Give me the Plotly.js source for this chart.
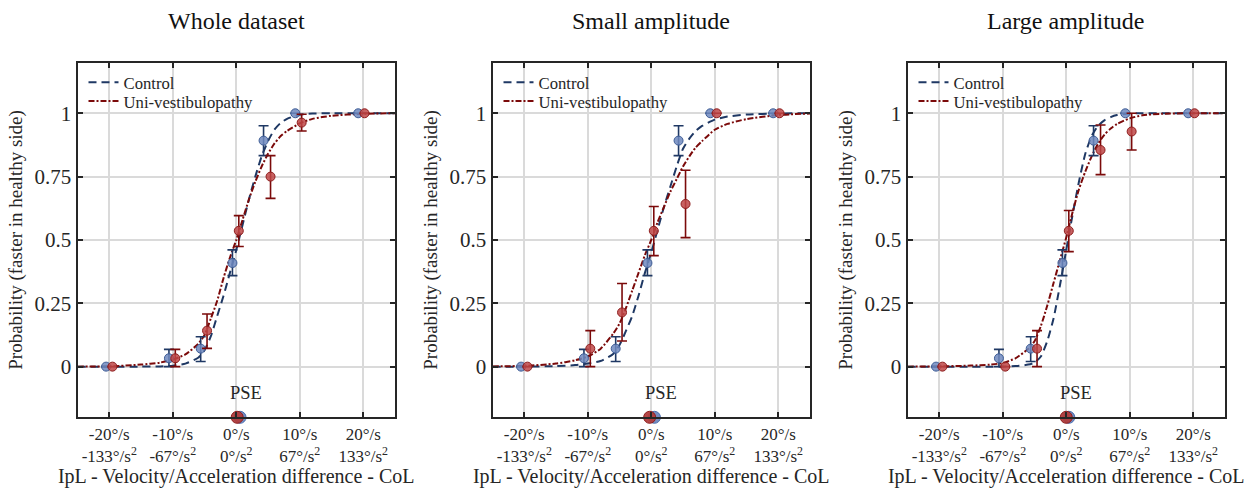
<!DOCTYPE html>
<html>
<head>
<meta charset="utf-8">
<script src="https://cdn.plot.ly/plotly-3.0.1.min.js"></script>
<style>html,body{margin:0;padding:0;background:#fff;}#chart{width:1251px;height:488px;}</style>
</head>
<body>
<div id="chart"></div>
<script>
// ---------- data ----------
const panelTitles = ["Whole dataset", "Small amplitude", "Large amplitude"];
const tickValues = [-20, -10, 0, 10, 20];
const tickLabels = ["-20°/s<br>-133°/s<sup>2</sup>", "-10°/s<br>-67°/s<sup>2</sup>", "0°/s<br>0°/s<sup>2</sup>", "10°/s<br>67°/s<sup>2</sup>", "20°/s<br>133°/s<sup>2</sup>"];
const yTickValues = [0, 0.25, 0.5, 0.75, 1];
const yTickLabels = ["0", "0.25", "0.5", "0.75", "1"];
const seriesNames = ["Control", "Uni-vestibulopathy"];

// observed points (x positions slightly jittered per group, as in the figure)
const controlX = [-20.5, -10.6, -5.6, -0.6, 4.3, 9.3, 19.2];
const uvpX     = [-19.5, -9.6, -4.6, 0.4, 5.4, 10.3, 20.2];

const controlP1 = [0, 0.033, 0.071, 0.409, 0.892, 1, 1];
const controlP1Hi = [0, 0.068, 0.118, 0.461, 0.951, 1, 1];
const controlP1Lo = [0, 0, 0.02, 0.359, 0.833, 1, 1];
const uvpP1 = [0, 0.033, 0.142, 0.536, 0.75, 0.963, 1];
const uvpP1Hi = [0, 0.068, 0.208, 0.596, 0.833, 0.996, 1];
const uvpP1Lo = [0, 0, 0.072, 0.474, 0.664, 0.93, 1];

const controlP2 = [0, 0.033, 0.071, 0.409, 0.892, 1, 1];
const controlP2Hi = [0, 0.068, 0.118, 0.461, 0.951, 1, 1];
const controlP2Lo = [0, 0, 0.02, 0.359, 0.833, 1, 1];
const uvpP2 = [0, 0.071, 0.214, 0.536, 0.642, 1, 1];
const uvpP2Hi = [0, 0.142, 0.328, 0.632, 0.775, 1, 1];
const uvpP2Lo = [0, 0, 0.101, 0.438, 0.509, 1, 1];

const controlP3 = [0, 0.033, 0.071, 0.409, 0.892, 1, 1];
const controlP3Hi = [0, 0.068, 0.118, 0.461, 0.951, 1, 1];
const controlP3Lo = [0, 0, 0.02, 0.359, 0.833, 1, 1];
const uvpP3 = [0, 0, 0.071, 0.536, 0.855, 0.928, 1];
const uvpP3Hi = [0, 0, 0.142, 0.616, 0.954, 1, 1];
const uvpP3Lo = [0, 0, 0, 0.454, 0.758, 0.855, 1];

// fitted psychometric curves, sampled from the figure
const curveX = [-25, -20, -15, -12, -10, -8, -6, -5, -4, -3, -2, -1, 0, 1, 2, 3, 4, 5, 6, 7, 8, 10, 12, 15, 20, 25];
const controlFit1 = [0, 0, 0, 0.001, 0.004, 0.012, 0.035, 0.065, 0.12, 0.2, 0.28, 0.37, 0.46, 0.56, 0.66, 0.75, 0.83, 0.89, 0.935, 0.962, 0.978, 0.994, 0.999, 1, 1, 1];
const uvpFit1     = [0, 0.001, 0.008, 0.016, 0.028, 0.048, 0.09, 0.125, 0.19, 0.26, 0.35, 0.43, 0.5, 0.58, 0.66, 0.73, 0.79, 0.84, 0.88, 0.91, 0.93, 0.96, 0.978, 0.99, 0.998, 1];
const controlFit2 = [0, 0, 0.002, 0.006, 0.012, 0.022, 0.05, 0.085, 0.14, 0.2, 0.28, 0.37, 0.45, 0.54, 0.63, 0.71, 0.79, 0.86, 0.9, 0.93, 0.95, 0.975, 0.987, 0.995, 0.999, 1];
const uvpFit2     = [0.001, 0.003, 0.012, 0.025, 0.04, 0.07, 0.13, 0.17, 0.23, 0.3, 0.37, 0.44, 0.5, 0.57, 0.63, 0.69, 0.74, 0.79, 0.83, 0.865, 0.89, 0.935, 0.958, 0.977, 0.993, 0.999];
const controlFit3 = [0, 0, 0, 0, 0, 0.002, 0.008, 0.016, 0.04, 0.1, 0.19, 0.32, 0.46, 0.6, 0.73, 0.84, 0.91, 0.95, 0.972, 0.985, 0.993, 0.999, 1, 1, 1, 1];
const uvpFit3     = [0, 0.001, 0.004, 0.008, 0.014, 0.033, 0.07, 0.1, 0.16, 0.24, 0.33, 0.42, 0.51, 0.61, 0.7, 0.77, 0.83, 0.88, 0.915, 0.94, 0.958, 0.98, 0.992, 0.998, 1, 1];

// points of subjective equality
const psePosition = -0.2;
const pseControl = [0.6, 0.5, 0.4];
const pseUvp = [0.15, -0.25, 0.0];
const pseLabel = "PSE";

const xTitle = "IpL - Velocity/Acceleration difference - CoL";
const yTitle = "Probability (faster in healthy side)";

// ---------- styling ----------
const FONT = "'Liberation Serif', 'Times New Roman', serif";
const AX = "#262626";
const cLine = "#1f3864", cFill = "rgba(110,136,190,0.85)", cEdge = "#3e5d96";
const uLine = "#7b0a0a", uFill = "rgba(190,70,70,0.85)", uEdge = "#8e1e1e";

const W = 1251, H = 488;
const panelLeftPx = [77.5, 492.5, 907.5];
const panelWidthPx = 317.5;
const topPx = 62.6, bottomPx = 417.3;

const panels = [
  {c: controlP1, cHi: controlP1Hi, cLo: controlP1Lo, u: uvpP1, uHi: uvpP1Hi, uLo: uvpP1Lo, cf: controlFit1, uf: uvpFit1},
  {c: controlP2, cHi: controlP2Hi, cLo: controlP2Lo, u: uvpP2, uHi: uvpP2Hi, uLo: uvpP2Lo, cf: controlFit2, uf: uvpFit2},
  {c: controlP3, cHi: controlP3Hi, cLo: controlP3Lo, u: uvpP3, uHi: uvpP3Hi, uLo: uvpP3Lo, cf: controlFit3, uf: uvpFit3}
];

const traces = [];
const layout = {
  width: W, height: H,
  margin: {l: 0, r: 0, t: 0, b: 0},
  paper_bgcolor: "#fff", plot_bgcolor: "#fff",
  font: {family: FONT, color: AX},
  showlegend: true,
  annotations: []
};

function legendBox(leftPx, topRowPx) {
  return {
    x: leftPx / W, y: 1 - topRowPx / H, xanchor: "left", yanchor: "top",
    bgcolor: "rgba(0,0,0,0)", borderwidth: 0, itemwidth: 30,
    font: {family: FONT, size: 16.7, color: AX}, tracegroupgap: 0
  };
}

panels.forEach((p, i) => {
  const n = i + 1;
  const xs = n === 1 ? "x" : "x" + n;
  const ys = n === 1 ? "y" : "y" + n;
  const lgA = n === 1 ? "legend" : "legend" + n;
  const lgB = "legend" + (n + 3);
  const d0 = panelLeftPx[i] / W, d1 = (panelLeftPx[i] + panelWidthPx) / W;

  layout[n === 1 ? "xaxis" : "xaxis" + n] = {
    domain: [d0, d1], anchor: ys, range: [-25, 25],
    tickmode: "array", tickvals: tickValues, ticktext: tickLabels,
    ticks: "inside", ticklen: 5, tickwidth: 1.5, tickcolor: AX,
    showline: true, linecolor: AX, linewidth: 2, mirror: "ticks",
    showgrid: true, gridcolor: "#dadada", gridwidth: 1.5, zeroline: false,
    tickfont: {family: FONT, size: 17, color: AX},
    title: {text: xTitle, font: {family: FONT, size: 20, color: AX}, standoff: 3},
    fixedrange: true
  };
  layout[n === 1 ? "yaxis" : "yaxis" + n] = {
    domain: [1 - bottomPx / H, 1 - topPx / H], anchor: xs, range: [-0.2, 1.2],
    tickmode: "array", tickvals: yTickValues, ticktext: yTickLabels,
    ticks: "inside", ticklen: 5, tickwidth: 1.5, tickcolor: AX,
    showline: true, linecolor: AX, linewidth: 2, mirror: "ticks",
    showgrid: true, gridcolor: "#dadada", gridwidth: 1.5, zeroline: false,
    tickfont: {family: FONT, size: 21, color: AX},
    title: {text: yTitle, font: {family: FONT, size: 19, color: AX}, standoff: 7},
    fixedrange: true
  };
  layout[lgA] = legendBox(panelLeftPx[i] + 6, 65);
  layout[lgB] = legendBox(panelLeftPx[i] + 6, 83.7);

  // fitted curves
  traces.push({x: curveX, y: p.cf, xaxis: xs, yaxis: ys, mode: "lines", name: seriesNames[0],
    line: {color: cLine, width: 2, dash: "8px,5px", shape: "spline", smoothing: 0.6}, legend: lgA, hoverinfo: "skip"});
  traces.push({x: curveX, y: p.uf, xaxis: xs, yaxis: ys, mode: "lines", name: seriesNames[1],
    line: {color: uLine, width: 2, dash: "6px,2px,2px,2px", shape: "spline", smoothing: 0.6}, legend: lgB, hoverinfo: "skip"});

  // observed proportions with confidence intervals
  traces.push({x: controlX, y: p.c, xaxis: xs, yaxis: ys, mode: "markers", showlegend: false,
    marker: {size: 9, color: cFill, line: {color: cEdge, width: 1}},
    error_y: {type: "data", symmetric: false, array: p.cHi.map((v, k) => v - p.c[k]), arrayminus: p.c.map((v, k) => v - p.cLo[k]),
      color: cLine, thickness: 1.6, width: 5}, hoverinfo: "skip"});
  traces.push({x: uvpX, y: p.u, xaxis: xs, yaxis: ys, mode: "markers", showlegend: false,
    marker: {size: 9, color: uFill, line: {color: uEdge, width: 1}},
    error_y: {type: "data", symmetric: false, array: p.uHi.map((v, k) => v - p.u[k]), arrayminus: p.u.map((v, k) => v - p.uLo[k]),
      color: uLine, thickness: 1.6, width: 5}, hoverinfo: "skip"});

  // PSE markers
  traces.push({x: [pseControl[i]], y: [psePosition], xaxis: xs, yaxis: ys, mode: "markers", showlegend: false, cliponaxis: false,
    marker: {size: 12, color: "rgba(110,136,190,0.95)", line: {color: "#4a6db0", width: 1}}, hoverinfo: "skip"});
  traces.push({x: [pseUvp[i]], y: [psePosition], xaxis: xs, yaxis: ys, mode: "markers", showlegend: false, cliponaxis: false,
    marker: {size: 12, color: "rgba(176,60,60,0.95)", line: {color: "#8e1e1e", width: 1}}, hoverinfo: "skip"});

  layout.annotations.push({xref: xs, yref: ys, x: 1.6, y: -0.105, text: pseLabel, showarrow: false,
    font: {family: FONT, size: 18.5, color: AX}, xanchor: "center", yanchor: "middle"});
  layout.annotations.push({xref: "paper", yref: "paper", x: (d0 + d1) / 2, y: 1 - 21 / H, text: panelTitles[i], showarrow: false,
    font: {family: FONT, size: 24, color: "#111"}, xanchor: "center", yanchor: "middle"});
});

Plotly.newPlot("chart", traces, layout, {displayModeBar: false});
</script>
</body>
</html>
